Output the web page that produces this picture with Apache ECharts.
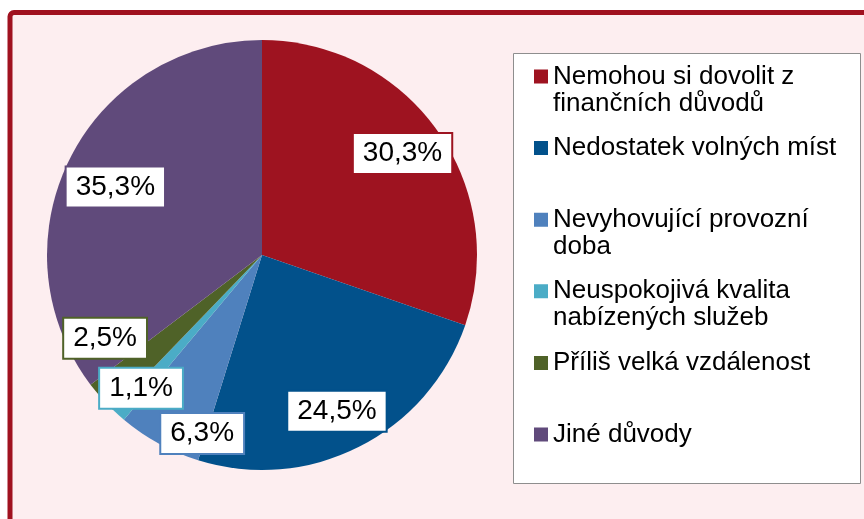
<!DOCTYPE html>
<html>
<head>
<meta charset="utf-8">
<script src="https://cdn.jsdelivr.net/npm/echarts@6/dist/echarts.min.js"></script>
<style>
  html, body { margin: 0; padding: 0; background: #fff; }
  #chart { width: 864px; height: 519px; }
</style>
</head>
<body>
<div id="chart"></div>
<script>
const categories = [
  'Nemohou si dovolit z\nfinančních důvodů',
  'Nedostatek volných míst',
  'Nevyhovující provozní\ndoba',
  'Neuspokojivá kvalita\nnabízených služeb',
  'Příliš velká vzdálenost',
  'Jiné důvody'
];
const shares = [30.3, 24.5, 6.3, 1.1, 2.5, 35.3];
const colors = ['#9e1320', '#02518b', '#4f81bd', '#4bacc6', '#4f6228', '#604a7b'];

// Excel nudged some labels to avoid overlap
const labelNudge = [[-2, 0], [-4, 0], [24, 25], [-4, 3], [-26, -33], [10, 10]];

const chart = echarts.init(document.getElementById('chart'));

const cx = 262, cy = 255, r = 215;
const fmt = v => v.toFixed(1).replace('.', ',') + '%';

// icon: square on the first text line of a two-line legend item
const icon = 'path://M0,0L0.01,0M0,6.5L14,6.5L14,20.5L0,20.5ZM0,54L0.01,54';

chart.setOption({
  backgroundColor: '#fff',
  animation: false,
  color: colors,
  graphic: [
    {
      type: 'rect', z: 0,
      shape: { x: 10, y: 12.5, width: 900, height: 600, r: 4 },
      style: { fill: '#fdeef0', stroke: '#a0111f', lineWidth: 5 }
    },
    {
      type: 'rect', z: 1,
      shape: { x: 513.5, y: 53.5, width: 347, height: 430 },
      style: { fill: '#fff', stroke: '#8e8e8e', lineWidth: 1 }
    }
  ],
  legend: {
    orient: 'vertical',
    left: 534,
    top: 63,
    padding: 0,
    itemGap: 17.6,
    itemWidth: 14,
    itemHeight: 54,
    icon: icon,
    selectedMode: false,
    data: categories,
    itemStyle: { borderWidth: 0 },
    formatter: name => name.indexOf('\n') >= 0 ? name : name + '\n ',
    textStyle: {
      fontFamily: 'Liberation Sans',
      fontSize: 26,
      lineHeight: 27,
      color: '#000'
    }
  },
  series: [
    {
      type: 'pie',
      center: [cx, cy],
      radius: [0, r],
      startAngle: 90,
      clockwise: true,
      silent: true,
      label: { show: false },
      labelLine: { show: false },
      itemStyle: { borderWidth: 0 },
      data: categories.map((name, i) => ({ name: name, value: shares[i] }))
    },
    {
      // transparent carrier so the labels sit at 0.8 of the radius
      type: 'pie',
      center: [cx, cy],
      radius: [0, r * 1.6],
      startAngle: 90,
      clockwise: true,
      silent: true,
      z: 3,
      itemStyle: { color: 'rgba(0,0,0,0)', borderWidth: 0 },
      labelLine: { show: false },
      label: {
        show: true,
        position: 'inside',
        formatter: p => fmt(p.value),
        fontFamily: 'Liberation Sans',
        fontSize: 28,
        lineHeight: 31,
        color: '#000',
        backgroundColor: '#fff',
        borderWidth: 2,
        padding: [4, 9]
      },
      data: shares.map((v, i) => ({
        value: v,
        label: { borderColor: colors[i], offset: labelNudge[i] }
      }))
    }
  ]
});
</script>
</body>
</html>
